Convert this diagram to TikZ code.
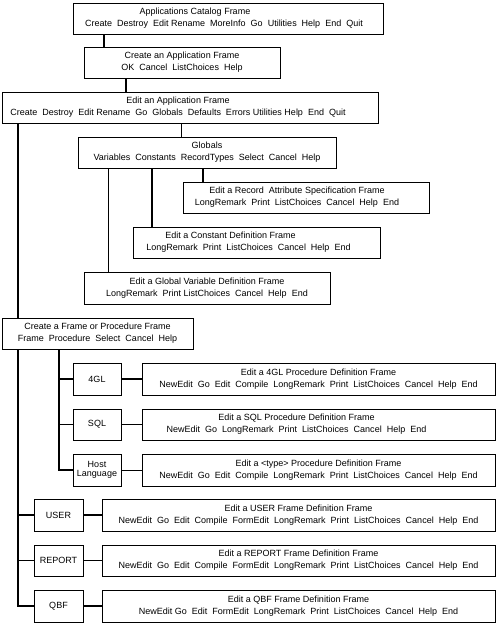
\documentclass[tikz,border=0pt]{standalone}
\usepackage{fontspec}
\setmainfont{Liberation Sans}
\begin{document}
\begin{tikzpicture}[x=1bp, y=-1bp, font=\fontsize{9bp}{11.7bp}\selectfont,
    fb/.style={draw, line width=0.8bp, fill=white, inner sep=0pt,
               minimum height=31bp, align=center},
    thk/.style={line width=1.3bp},
    thn/.style={line width=0.7bp}
]
    \useasboundingbox (0,0) rectangle (496,623);

    % Top chain
    \node[fb, minimum width=310bp] (acat) at (228,18.5)
        {Applications Catalog Frame\hspace*{66bp}\\Create~ Destroy~ Edit Rename~ MoreInfo~ Go~ Utilities~ Help~ End~ Quit\hspace*{8bp}};
    \node[fb, minimum width=196bp] (capp) at (182,62.5)
        {Create an Application Frame\\OK~ Cancel~ ListChoices~ Help};
    \node[fb, minimum width=376bp] (eapp) at (190,107.5)
        {Edit an Application Frame\hspace*{24bp}\\Create~ Destroy~ Edit Rename~ Go~ Globals~ Defaults~ Errors Utilities Help~ End~ Quit\hspace*{24bp}};

    % Globals branch
    \node[fb, minimum width=258bp] (glob) at (207,152.5)
        {Globals\\Variables~ Constants~ RecordTypes~ Select~ Cancel~ Help};
    \node[fb, minimum width=246bp] (erec) at (306,197.5)
        {Edit a Record~ Attribute Specification Frame\hspace*{18bp}\\LongRemark~ Print~ ListChoices~ Cancel~ Help~ End\hspace*{18bp}};
    \node[fb, minimum width=247bp] (econ) at (256.5,242.5)
        {Edit a Constant Definition Frame\hspace*{52bp}\\LongRemark~ Print~ ListChoices~ Cancel~ Help~ End\hspace*{16bp}};
    \node[fb, minimum width=246bp, minimum height=32bp] (evar) at (207,288)
        {Edit a Global Variable Definition Frame\\LongRemark~ Print ListChoices~ Cancel~ Help~ End};

    % Frame or procedure branch
    \node[fb, minimum width=191bp] (cfp) at (97.5,333.5)
        {Create a Frame or Procedure Frame\\Frame~ Procedure~ Select~ Cancel~ Help};
    \node[fb, minimum width=48bp, minimum height=32bp] (l4gl) at (97,379) {4GL};
    \node[fb, minimum width=48bp] (lsql) at (97,424.5) {SQL};
    \node[fb, minimum width=48bp, minimum height=32bp,
          font=\fontsize{9bp}{9.5bp}\selectfont] (lhost) at (97,470) {Host\\Language};
    \node[fb, minimum width=353bp, minimum height=32bp] (p4gl) at (318.5,379)
        {Edit a 4GL Procedure Definition Frame\\NewEdit~ Go~ Edit~ Compile~ LongRemark~ Print~ ListChoices~ Cancel~ Help~ End};
    \node[fb, minimum width=353bp] (psql) at (318.5,424.5)
        {Edit a SQL Procedure Definition Frame\hspace*{44bp}\\NewEdit~ Go~ LongRemark~ Print~ ListChoices~ Cancel~ Help~ End\hspace*{44bp}};
    \node[fb, minimum width=353bp, minimum height=32bp] (phost) at (318.5,470)
        {Edit a \textless type\textgreater{} Procedure Definition Frame\\NewEdit~ Go~ Edit~ Compile~ LongRemark~ Print~ ListChoices~ Cancel~ Help~ End};

    % Frame types
    \node[fb, minimum width=49bp, minimum height=32bp] (luser) at (58.5,515) {USER};
    \node[fb, minimum width=49bp] (lrep) at (58.5,560.5) {REPORT};
    \node[fb, minimum width=49bp, minimum height=32bp] (lqbf) at (58.5,606) {QBF};
    \node[fb, minimum width=393bp, minimum height=32bp] (fuser) at (298.5,515)
        {Edit a USER Frame Definition Frame\\NewEdit~ Go~ Edit~ Compile~ FormEdit~ LongRemark~ Print~ ListChoices~ Cancel~ Help~ End};
    \node[fb, minimum width=393bp] (frep) at (298.5,560.5)
        {Edit a REPORT Frame Definition Frame\\NewEdit~ Go~ Edit~ Compile~ FormEdit~ LongRemark~ Print~ ListChoices~ Cancel~ Help~ End};
    \node[fb, minimum width=393bp, minimum height=32bp] (fqbf) at (298.5,606)
        {Edit a QBF Frame Definition Frame\\NewEdit Go~ Edit~ FormEdit~ LongRemark~ Print~ ListChoices~ Cancel~ Help~ End};

    % Columns of the vertical links
    \coordinate (ca) at (104,0);
    \coordinate (cb) at (126,0);
    \coordinate (cc) at (181,0);
    \coordinate (cv) at (108,0);
    \coordinate (ck) at (152,0);
    \coordinate (cr) at (203,0);
    \coordinate (tk) at (18,0);
    \coordinate (sk) at (59,0);

    % Links
    \draw[thk] (acat.south -| ca) -- (capp.north -| ca);
    \draw[thk] (capp.south -| cb) -- (eapp.north -| cb);
    \draw[thn] (eapp.south -| cc) -- (glob.north -| cc);
    \draw[thn] (glob.south -| cv) -- (evar.north -| cv);
    \draw[thk] (glob.south -| ck) -- (econ.north -| ck);
    \draw[thk] (glob.south -| cr) -- (erec.north -| cr);

    % Main trunk
    \draw[thk] (eapp.south -| tk) -- (cfp.north -| tk);
    \draw[thk] (cfp.south -| tk) |- (lqbf.west);
    \draw[thk] (luser.west -| tk) -- (luser.west);
    \draw[thk] (lrep.west -| tk) -- (lrep.west);

    % Procedure trunk
    \draw[thk] (cfp.south -| sk) |- (lhost.west);
    \draw[thk] (l4gl.west -| sk) -- (l4gl.west);
    \draw[thn] (lsql.west -| sk) -- (lsql.west);

    % Type to frame
    \draw[thk] (l4gl) -- (p4gl);
    \draw[thn] (lsql) -- (psql);
    \draw[thn] (lhost) -- (phost);
    \draw[thk] (luser) -- (fuser);
    \draw[thk] (lrep) -- (frep);
    \draw[thk] (lqbf) -- (fqbf);
\end{tikzpicture}
\end{document}
